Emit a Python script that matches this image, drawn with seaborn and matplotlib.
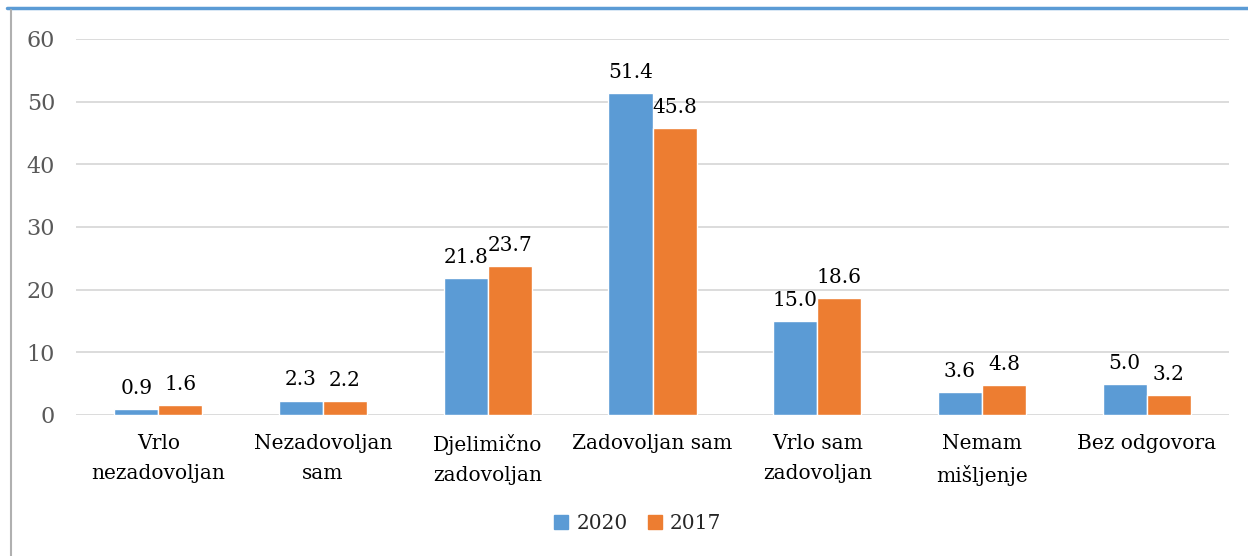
import matplotlib
matplotlib.use("Agg")
import matplotlib.pyplot as plt
import seaborn as sns
import pandas as pd
from matplotlib.lines import Line2D

categories = ["Vrlo\nnezadovoljan", "Nezadovoljan\nsam", "Djelimično\nzadovoljan",
              "Zadovoljan sam", "Vrlo sam\nzadovoljan", "Nemam\nmišljenje", "Bez odgovora"]
values_2020 = [0.9, 2.3, 21.8, 51.4, 15.0, 3.6, 5.0]
values_2017 = [1.6, 2.2, 23.7, 45.8, 18.6, 4.8, 3.2]
series = ["2020", "2017"]
colors = ["#5B9BD5", "#ED7D31"]

df = pd.DataFrame({
    "cat": categories * 2,
    "val": values_2020 + values_2017,
    "year": [series[0]] * len(categories) + [series[1]] * len(categories),
})

sns.set_theme(style="white")
plt.rcParams["font.family"] = ["DejaVu Serif"]

fig = plt.figure(figsize=(12.48, 5.56), dpi=100)
ax = fig.add_axes([0.0609, 0.2536, 0.9239, 0.6763])

sns.barplot(data=df, x="cat", y="val", hue="year", palette=colors, width=0.535,
            ax=ax, legend=False, saturation=1)

ax.set_ylim(0, 60)
ax.set_yticks(range(0, 61, 10))
ax.set_xlim(-0.5, len(categories) - 0.5)
ax.grid(axis="y", color="#D9D9D9", linewidth=1.3)
ax.set_axisbelow(True)
for s in ax.spines.values():
    s.set_visible(False)
ax.set_xlabel("")
ax.set_ylabel("")
ax.tick_params(axis="y", length=0, pad=15, labelsize=16, labelcolor="#595959")
ax.tick_params(axis="x", length=0, pad=14, labelsize=14.5, labelcolor="black")
for lbl in ax.get_xticklabels():
    lbl.set_linespacing(1.68)

for cont in ax.containers:
    ax.bar_label(cont, fmt="%.1f", padding=8, fontsize=14.5, color="black")

handles = [Line2D([], [], marker="s", linestyle="", markersize=10, color=c) for c in colors]
fig.legend(handles, series, loc="center", bbox_to_anchor=(0.511, 0.058), ncol=2,
           frameon=False, fontsize=14.5, handlelength=0.7, handletextpad=0.4,
           columnspacing=1.0)

# outer frame lines
fig.add_artist(Line2D([0.006, 1.0], [0.985, 0.985], color="#5B9BD5", linewidth=2.5,
                      transform=fig.transFigure))
fig.add_artist(Line2D([0.0085, 0.0085], [0.0, 0.982], color="#B0B0B0", linewidth=1.5,
                      transform=fig.transFigure))

fig.savefig("out.png", dpi=100)
